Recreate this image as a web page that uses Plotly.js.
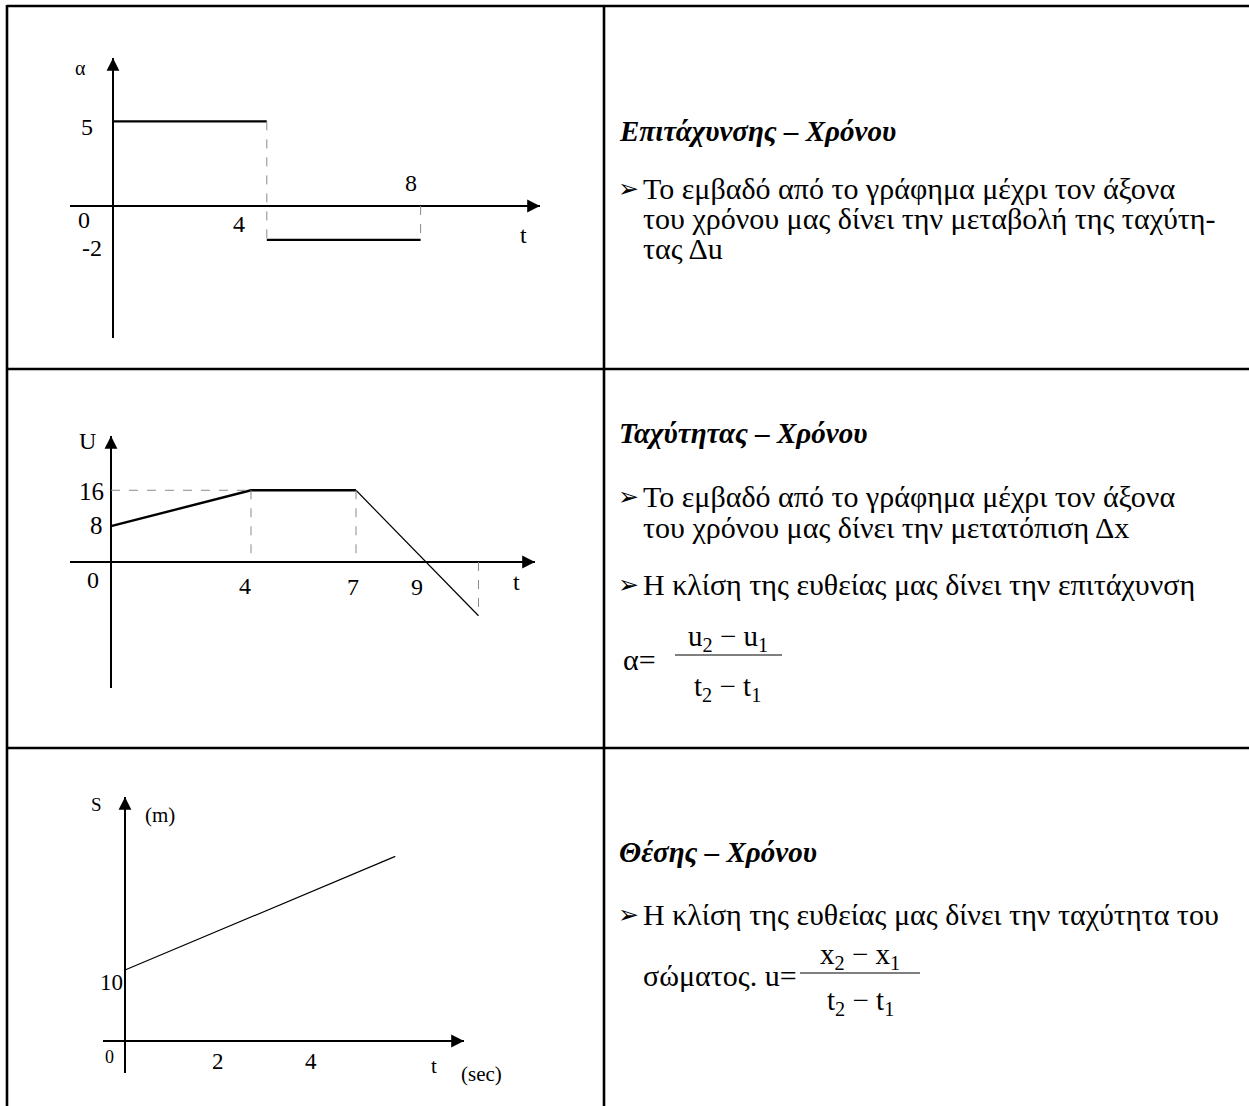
<!DOCTYPE html>
<html>
<head>
<meta charset="utf-8">
<script src="https://cdn.plot.ly/plotly-3.0.1.min.js"></script>
<style>
  html, body { margin: 0; padding: 0; background: #fff; }
  #chart { width: 1249px; height: 1106px; }
</style>
</head>
<body>
<div id="chart"></div>
<script>
// ---- Acceleration – time (piecewise constant) ----
const accBreaks = [0, 4, 8];
const accLevels = [5, -2];
const accTickTimes = [0, 4, 8];
const accTickValues = [5, -2];

// ---- Velocity – time ----
const velTimes = [0, 4, 7, 9, 10.5];
const velValues = [8, 16, 16, 0, -12];
const velTickTimes = [0, 4, 7, 9];
const velTickValues = [16, 8];

// ---- Position – time ----
const posTimes = [0, 5.8];
const posValues = [10, 26];
const posTickTimes = [0, 2, 4];
const posTickValues = [10];

// Axis names
const accAxisNames = ['α', 't'];
const velAxisNames = ['U', 't'];
const posAxisNames = ['S', '(m)', 't', '(sec)'];

// Right-hand column text
const titles = ['Επιτάχυνσης – Χρόνου', 'Ταχύτητας – Χρόνου', 'Θέσης – Χρόνου'];
const accText = ['Το εμβαδό από το γράφημα μέχρι τον άξονα',
                 'του χρόνου μας δίνει την μεταβολή της ταχύτη-',
                 'τας Δu'];
const velText = ['Το εμβαδό από το γράφημα μέχρι τον άξονα',
                 'του χρόνου μας δίνει την μετατόπιση Δx',
                 'Η κλίση της ευθείας μας δίνει την επιτάχυνση'];
const posText = ['Η κλίση της ευθείας μας δίνει την ταχύτητα του',
                 'σώματος. u='];

const W = 1249, H = 1106;
const px = x => x / W;
const py = y => 1 - y / H;

const SERIF = 'Liberation Serif, DejaVu Serif, serif';
const BLACK = '#000';
const DASH = '#8a8a8a';

function line(xa, ya, t, v, width, color, dash) {
  return { x: t, y: v, xaxis: xa, yaxis: ya, mode: 'lines', hoverinfo: 'skip',
           line: { color: color || BLACK, width: width, dash: dash || 'solid' } };
}

const traces = [];

// acceleration steps
for (let i = 0; i < accLevels.length; i++) {
  traces.push(line('x', 'y', [accBreaks[i], accBreaks[i + 1]], [accLevels[i], accLevels[i]], 2.4));
}
// guides for the steps
traces.push(line('x', 'y', [accBreaks[1], accBreaks[1]], [accLevels[0], accLevels[1]], 1, DASH, 'dash'));
traces.push(line('x', 'y', [accBreaks[2], accBreaks[2]], [0, accLevels[1]], 1, DASH, 'dash'));

// velocity: heavy rising + constant part, light decelerating part
traces.push(line('x2', 'y2', velTimes.slice(0, 3), velValues.slice(0, 3), 2.4));
traces.push(line('x2', 'y2', velTimes.slice(2), velValues.slice(2), 1.2));
// guides
traces.push(line('x2', 'y2', [0, velTimes[1]], [velValues[1], velValues[1]], 1, DASH, 'dash'));
traces.push(line('x2', 'y2', [velTimes[1], velTimes[1]], [velValues[1], 0], 1, DASH, 'dash'));
traces.push(line('x2', 'y2', [velTimes[2], velTimes[2]], [velValues[2], 0], 1, DASH, 'dash'));
traces.push(line('x2', 'y2', [velTimes[4], velTimes[4]], [0, velValues[4]], 1, DASH, 'dash'));

// position
traces.push(line('x3', 'y3', posTimes, posValues, 1.2));

function axis(domain, range) {
  return { domain: domain, range: range, visible: true, showgrid: false, showline: false,
           showticklabels: false, ticks: '', zeroline: true, zerolinecolor: BLACK,
           zerolinewidth: 1.6, fixedrange: true };
}

const annotations = [];

function lbl(xr, yr, x, y, text, dx, dy, size) {
  annotations.push({ xref: xr, yref: yr, x: x, y: y, text: text, showarrow: false,
                     xshift: dx, yshift: -dy, xanchor: 'center', yanchor: 'middle',
                     font: { family: SERIF, size: size || 24, color: BLACK } });
}
function head(xr, yr, x, y, ax, ay) {
  annotations.push({ xref: xr, yref: yr, x: x, y: y, ax: ax, ay: ay, text: '',
                     showarrow: true, arrowhead: 2, arrowsize: 1.6, arrowwidth: 1.6,
                     arrowcolor: BLACK, standoff: 0 });
}

// ranges
const r1x = [-1.118, 11.105], r1y = [-7.797, 8.742];
const r2x = [-1.171, 12.114], r2y = [-28.11, 28.11];
const r3x = [-0.472, 7.275], r3y = [-4.507, 34.37];

// arrowheads
head('x', 'y', r1x[1], 0, -14, 0);  head('x', 'y', 0, r1y[1], 0, 14);
head('x2', 'y2', r2x[1], 0, -14, 0); head('x2', 'y2', 0, r2y[1], 0, 14);
head('x3', 'y3', r3x[1], 0, -14, 0); head('x3', 'y3', 0, r3y[1], 0, 14);

// acceleration labels
lbl('x', 'y', 0, r1y[1], accAxisNames[0], -32, 10, 20);
lbl('x', 'y', r1x[1], 0, accAxisNames[1], -17, 29);
lbl('x', 'y', accTickTimes[0], 0, String(accTickTimes[0]), -29, 14);
lbl('x', 'y', accTickTimes[1], 0, String(accTickTimes[1]), -28, 18);
lbl('x', 'y', accTickTimes[2], 0, String(accTickTimes[2]), -10, -23);
lbl('x', 'y', 0, accTickValues[0], String(accTickValues[0]), -26, 6);
lbl('x', 'y', 0, accTickValues[1], String(accTickValues[1]), -21, 8);

// velocity labels
lbl('x2', 'y2', 0, r2y[1], velAxisNames[0], -23, 5);
lbl('x2', 'y2', r2x[1], 0, velAxisNames[1], -19, 20);
lbl('x2', 'y2', velTickTimes[0], 0, String(velTickTimes[0]), -18, 18);
lbl('x2', 'y2', velTickTimes[1], 0, String(velTickTimes[1]), -6, 24);
lbl('x2', 'y2', velTickTimes[2], 0, String(velTickTimes[2]), -3, 25);
lbl('x2', 'y2', velTickTimes[3], 0, String(velTickTimes[3]), -9, 25);
lbl('x2', 'y2', 0, velTickValues[0], String(velTickValues[0]), -19, 1, 25);
lbl('x2', 'y2', 0, velTickValues[1], String(velTickValues[1]), -14, -1, 25);

// position labels
lbl('x3', 'y3', 0, r3y[1], posAxisNames[0], -28, 7, 19);
lbl('x3', 'y3', 0, r3y[1], posAxisNames[1], 35, 18, 21);
lbl('x3', 'y3', r3x[1], 0, posAxisNames[2], -30, 25, 21);
lbl('x3', 'y3', r3x[1], 0, posAxisNames[3], 17, 33, 21);
lbl('x3', 'y3', posTickTimes[0], 0, String(posTickTimes[0]), -15, 16, 18);
lbl('x3', 'y3', posTickTimes[1], 0, String(posTickTimes[1]), 0, 20, 23);
lbl('x3', 'y3', posTickTimes[2], 0, String(posTickTimes[2]), 0, 20, 23);
lbl('x3', 'y3', 0, posTickValues[0], String(posTickValues[0]), -13, 12, 23);

// right column text
const TXT = 30;
function txt(x, y, text, opts) {
  opts = opts || {};
  annotations.push({ xref: 'paper', yref: 'paper', x: px(x), y: py(y), text: text,
                     showarrow: false, xanchor: opts.anchor || 'left', yanchor: 'middle',
                     font: { family: opts.family || SERIF, size: opts.size || TXT, color: BLACK } });
}
function bullet(y) { txt(616, y, '➢', { family: 'DejaVu Sans', size: 25 }); }
function title(y, s) { txt(617, y, '<b><i>' + s + '</i></b>', { size: 29 }); }

title(131, titles[0]);
bullet(188);
txt(641, 188, accText[0]);
txt(641, 219, accText[1]);
txt(641, 249, accText[2]);

title(433, titles[1]);
bullet(497);
txt(641, 497, velText[0]);
txt(641, 527, velText[1]);
bullet(584);
txt(641, 584, velText[2]);
txt(621, 659, 'α=');
txt(728, 638, 'u<sub>2</sub> − u<sub>1</sub>', { anchor: 'center', size: 29 });
txt(728, 688, 't<sub>2</sub> − t<sub>1</sub>', { anchor: 'center', size: 29 });

title(852, titles[2]);
bullet(914);
txt(641, 914, posText[0]);
txt(641, 975, posText[1]);
txt(860, 956, 'x<sub>2</sub> − x<sub>1</sub>', { anchor: 'center', size: 29 });
txt(860, 1002, 't<sub>2</sub> − t<sub>1</sub>', { anchor: 'center', size: 29 });

// table rules and fraction bars
function rule(x0, y0, x1, y1, w) {
  return { type: 'line', xref: 'paper', yref: 'paper', x0: px(x0), y0: py(y0), x1: px(x1), y1: py(y1),
           line: { color: BLACK, width: w } };
}
const shapes = [
  rule(7, 6, 1249, 6, 2.6),
  rule(7, 369, 1249, 369, 2.6),
  rule(7, 748, 1249, 748, 2.6),
  rule(7, 5, 7, 1106, 2.6),
  rule(604, 5, 604, 1106, 2.6),
  rule(675, 655, 782, 655, 1),
  rule(800, 973, 920, 973, 1)
];

const layout = {
  width: W, height: H,
  margin: { l: 0, r: 0, t: 0, b: 0 },
  paper_bgcolor: '#fff', plot_bgcolor: 'rgba(0,0,0,0)',
  showlegend: false,
  xaxis:  axis([px(70), px(540)], r1x),  yaxis:  axis([py(338), py(58)], r1y),
  xaxis2: axis([px(70), px(535)], r2x),  yaxis2: axis([py(688), py(436)], r2y),
  xaxis3: axis([px(103), px(464)], r3x), yaxis3: axis([py(1073), py(797)], r3y),
  annotations: annotations,
  shapes: shapes
};
layout.yaxis.anchor = 'x'; layout.yaxis2.anchor = 'x2'; layout.yaxis3.anchor = 'x3';
layout.xaxis.anchor = 'y'; layout.xaxis2.anchor = 'y2'; layout.xaxis3.anchor = 'y3';

Plotly.newPlot('chart', traces, layout, { staticPlot: true, displayModeBar: false });
</script>
</body>
</html>
